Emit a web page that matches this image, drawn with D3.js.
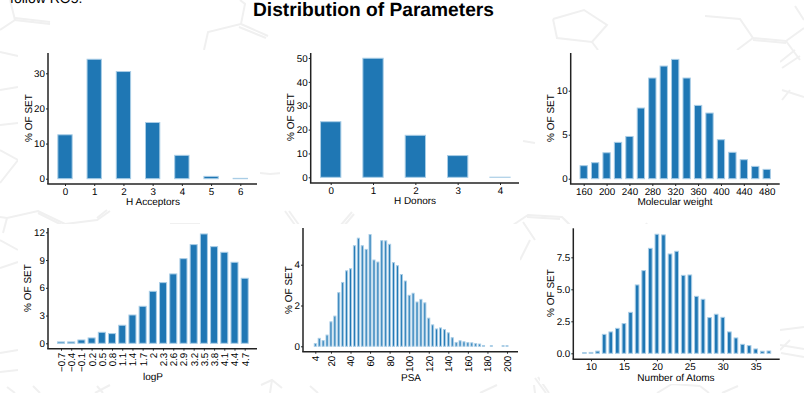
<!DOCTYPE html>
<html><head><meta charset="utf-8">
<script src="https://cdn.jsdelivr.net/npm/d3@7"></script>
<style>
html,body{margin:0;padding:0;background:#fff;overflow:hidden}
svg{display:block}
text{font-family:"Liberation Sans",Arial,sans-serif;fill:#000;text-rendering:geometricPrecision}
</style></head><body>
<svg id="c" width="804" height="393"></svg>
<script>
const acceptorCats=[0,1,2,3,4,5,6];
const acceptorVals=[12.5,34,30.5,16,6.65,0.66,0.1];
const donorCats=[0,1,2,3,4];
const donorVals=[23.3,49.9,17.6,9.1,0.05];
const mwCats=[160,180,200,220,240,260,280,300,320,340,360,380,400,420,440,460,480];
const mwVals=[1.48,1.82,2.95,4.13,4.8,8.03,11.44,12.8,13.56,11.44,8.33,7.46,4.43,3.0,2.16,1.4,1.06];
const logpCats=["−0.7","−0.4","−0.1","0.2","0.5","0.8","1.1","1.4","1.7","2","2.3","2.6","2.9","3.2","3.5","3.8","4.1","4.4","4.7"];
const logpVals=[0.15,0.15,0.36,0.58,1.19,1.05,1.95,3.06,4.0,5.62,6.56,7.5,9.15,10.67,11.82,10.45,9.84,8.76,7.03];
const psaCats=[4,8,12,16,20,24,28,32,36,40,44,48,52,56,60,64,68,72,76,80,84,88,92,96,100,104,108,112,116,120,124,128,132,136,140,144,148,152,156,160,164,168,172,176,180,184,188,192,196,200];
const psaVals=[0.13,0.39,0.28,0.55,1.2,1.48,2.63,3.13,3.7,3.8,4.93,5.3,4.93,4.75,5.48,4.23,4.13,5.18,5.17,5.0,4.1,3.95,3.52,3.2,2.5,2.6,2.17,2.3,2.13,1.38,1.05,0.85,0.9,0.82,0.66,0.42,0.19,0.27,0.22,0.18,0.17,0.13,0.11,0.04,0,0.03,0,0,0.03,0.03];
const atomCats=[9,10,11,12,13,14,15,16,17,18,19,20,21,22,23,24,25,26,27,28,29,30,31,32,33,34,35,36,37];
const atomVals=[0.05,0.07,0.17,1.48,1.67,1.95,2.32,3.2,5.34,6.46,8.2,9.3,9.25,7.76,7.97,6.09,6.12,4.45,4.22,2.79,3.05,2.81,1.67,1.2,0.7,0.6,0.34,0.16,0.18];
const acceptorTicks=[0,1,2,3,4,5,6], donorTicks=[0,1,2,3,4];
const mwTicks=[160,200,240,280,320,360,400,440,480];
const psaTicks=[4,20,40,60,80,100,120,140,160,180,200];
const atomTicks=[10,15,20,25,30,35];
const yTicks={acc:[0,10,20,30],don:[0,10,20,30,40,50],mw:[0,5,10],logp:[0,3,6,9,12],psa:[0,2,4],atom:[0,2.5,5,7.5]};

const svg=d3.select("#c");
const INK="#222", FILL="#1f77b4", EDGE="#a9cde6", BG="#f0f0f0";
const TICK="9.8px", LAB="10px";

// faint molecule backdrop (decoration only)
const backdrop=[
 [[10,0],[15,20],[50,24]],[[15,18],[50,22]],[[15,20],[0,30]],
 [[240,0],[245,4],[241,24],[208,32],[204,50]],[[241,24],[268,36]],[[239,27],[266,38]],
 [[553,19],[584,10],[607,25],[592,42],[557,38],[553,19]],[[592,42],[598,50]],
 [[705,16],[740,19],[753,38],[786,41]],[[753,40],[786,43]],[[753,38],[737,50]],[[786,41],[804,28]],[[786,41],[800,60]],[[795,6],[804,20]],
 [[0,52],[18,56]],[[0,90],[18,87]],[[0,125],[18,123]],[[0,150],[18,160],[0,183]],
 [[780,62],[795,50]],[[782,68],[800,56]],[[782,90],[804,97]],[[782,100],[790,90]],
 [[260,173],[270,174],[282,173]],[[523,141],[535,143]],
 [[0,217],[7,218],[38,211],[65,224]],[[38,213],[62,225]],[[65,224],[97,220],[110,211]],[[97,218],[107,210]],[[7,218],[3,233]],
 [[170,224],[200,224]],[[285,211],[300,232]],[[289,211],[304,232]],[[335,232],[352,212]],[[338,233],[354,214]],
 [[513,225],[528,215],[562,217],[570,225]],[[527,217],[560,219]],[[646,223],[648,226]],
 [[0,268],[18,262]],[[0,240],[18,250]],[[520,260],[530,240]],[[523,222],[535,240]],
 [[780,330],[804,327]],[[780,345],[804,349]],[[780,350],[790,340]],
 [[0,372],[18,370]],[[0,353],[18,350]],[[7,387],[15,393]],[[33,386],[40,393]],[[97,386],[103,393]],[[95,393],[110,385]],
 [[261,385],[272,380],[282,388]],[[272,380],[270,393]],[[310,386],[318,393]],
 [[480,393],[497,385]],[[534,385],[535,393]],[[535,378],[546,393]],[[538,377],[549,393]],
 [[657,393],[672,384],[700,386]],[[700,386],[709,393]],[[722,393],[738,386]],[[781,353],[804,357]]
];
svg.append("g").selectAll("path").data(backdrop).join("path")
  .attr("d",d3.line()).attr("fill","none").attr("stroke",BG).attr("stroke-width",2);

const panels=[
 {cats:acceptorCats,vals:acceptorVals,ticks:acceptorTicks,yt:yTicks.acc,label:"H Acceptors",
  box:[18,50,242,158],ax:[48,53,257,184],dom:[0,6],rng:[65,240.3],y:[0,30],yr:[178.7,73.3],w:.49,xlab:[153,205],ylab:[28,118],kind:"n"},
 {cats:donorCats,vals:donorVals,ticks:donorTicks,yt:yTicks.don,label:"H Donors",
  box:[280,50,240,158],ax:[310.7,53,519,183],dom:[0,4],rng:[330.7,500],y:[0,50],yr:[177.3,58],w:.48,xlab:[415,204],ylab:[290,117],kind:"n"},
 {cats:mwCats,vals:mwVals,ticks:mwTicks,yt:yTicks.mw,label:"Molecular weight",
  box:[540,50,240,158],ax:[570.7,53,779.7,184],dom:[160,480],rng:[583.7,766.7],y:[0,10],yr:[178.7,90.7],w:.64,xlab:[675,205],ylab:[550,118],kind:"n"},
 {cats:logpCats,vals:logpVals,ticks:logpCats,yt:yTicks.logp,label:"logP",
  box:[18,224,242,160],ax:[48,228,257,348.7],dom:[0,18],rng:[61,244.7],y:[0,12],yr:[343.3,232.3],w:.69,xlab:[153,380],ylab:[27,288],kind:"r"},
 {cats:psaCats,vals:psaVals,ticks:psaTicks,yt:yTicks.psa,label:"PSA",
  box:[280,224,240,160],ax:[303,228,518,351.7],dom:[4,200],rng:[315.3,507],y:[0,4],yr:[346.3,264.7],w:.52,xlab:[411,381],ylab:[288,290],kind:"r"},
 {cats:atomCats,vals:atomVals,ticks:atomTicks,yt:yTicks.atom,label:"Number of Atoms",
  box:[540,224,240,160],ax:[573.3,228.3,779.7,359.3],dom:[10,35],rng:[591,755.7],y:[0,7.5],yr:[353.3,257.3],w:.56,xlab:[676,381],ylab:[550,293],kind:"n"}
];

panels.forEach(p=>{
  const g=svg.append("g");
  g.append("rect").attr("x",p.box[0]).attr("y",p.box[1]).attr("width",p.box[2]).attr("height",p.box[3]).attr("fill","#fff");
  const isCat=typeof p.cats[0]==="string";
  const x=d3.scaleLinear().domain(p.dom).range(p.rng);
  const pos=(c,i)=>x(isCat?i:c);
  const y=d3.scaleLinear().domain(p.y).range(p.yr);
  const step=isCat?x(1)-x(0):x(p.cats[1])-x(p.cats[0]);
  const bw=step*p.w;
  g.selectAll("rect.bar").data(p.cats.map((c,i)=>({c,i,v:p.vals[i]}))).join("rect")
    .attr("class","bar").attr("x",d=>pos(d.c,d.i)-bw/2).attr("width",bw)
    .attr("y",d=>y(d.v)).attr("height",d=>y(0)-y(d.v))
    .attr("fill",FILL).attr("stroke",EDGE).attr("stroke-width",1);
  const [ax0,ay0,ax1,ay1]=p.ax;
  const ya=d3.axisLeft(y).tickValues(p.yt).tickSize(2).tickPadding(1)
    .tickFormat(p.yt.includes(2.5)?d3.format(".1f"):d3.format("d"));
  const gy=g.append("g").attr("transform",`translate(${ax0},0)`).call(ya);
  gy.select(".domain").remove();
  gy.selectAll("text").style("font-size",TICK);
  gy.selectAll("line").attr("stroke",INK);
  const xa=d3.axisBottom(x).tickSize(2).tickPadding(2);
  if(isCat){xa.tickValues(p.cats.map((c,i)=>i)).tickFormat(i=>p.cats[i]);}
  else{xa.tickValues(p.ticks).tickFormat(d3.format("d"));}
  const gx=g.append("g").attr("transform",`translate(0,${ay1})`).call(xa);
  gx.select(".domain").remove();
  gx.selectAll("line").attr("stroke",INK);
  gx.selectAll("text").style("font-size",TICK);
  if(p.kind==="r"){
    gx.selectAll("text").attr("text-anchor","end")
      .attr("transform","rotate(-90)").attr("x",-4).attr("y",0).attr("dy",".35em");
  }
  g.append("line").attr("x1",ax0).attr("x2",ax0).attr("y1",ay0).attr("y2",ay1).attr("stroke",INK).attr("stroke-width",1.5);
  g.append("line").attr("x1",ax0-.75).attr("x2",ax1).attr("y1",ay1).attr("y2",ay1).attr("stroke",INK).attr("stroke-width",1.5);
  g.append("text").attr("x",p.xlab[0]).attr("y",p.xlab[1]).attr("text-anchor","middle").style("font-size",LAB).text(p.label);
  g.append("text").attr("transform",`translate(${p.ylab[0]+3.5},${p.ylab[1]}) rotate(-90)`).attr("text-anchor","middle").style("font-size",LAB).text("% OF SET");
});

svg.append("text").attr("x",373.5).attr("y",15.5).attr("text-anchor","middle").style("font-size","19.2px").style("font-weight","bold").text("Distribution of Parameters");
svg.append("text").attr("x",10).attr("y",3).style("font-size","14px").text("follow RO5:");
</script>
</body></html>
